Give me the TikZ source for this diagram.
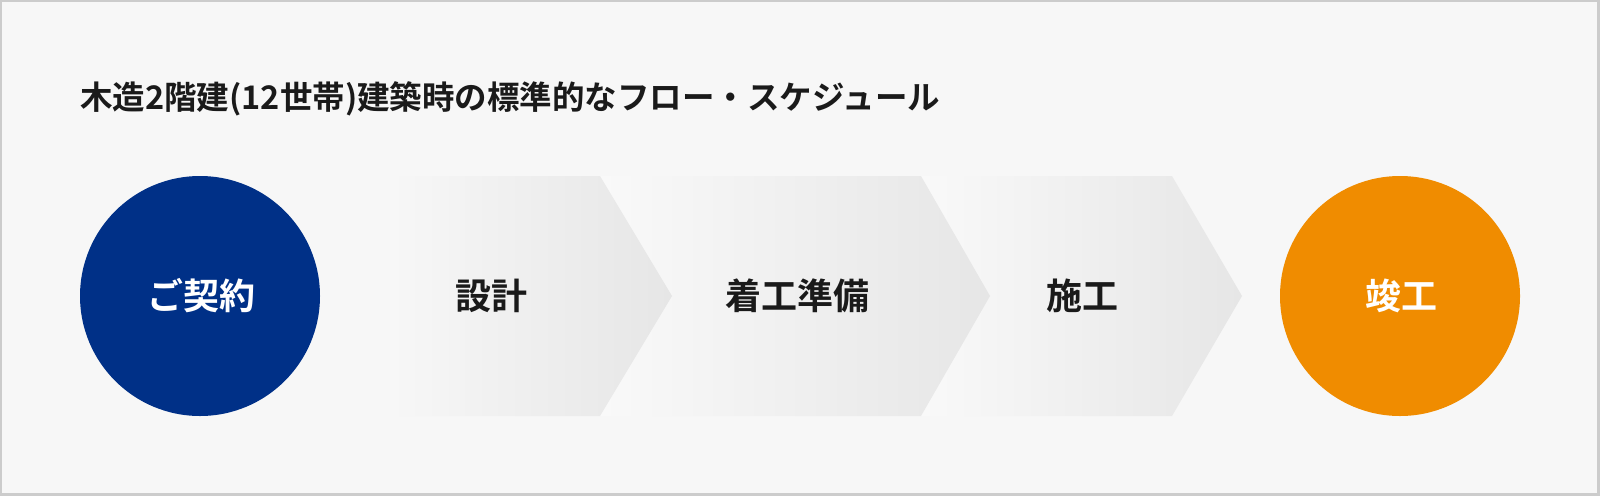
\documentclass[tikz,border=0pt]{standalone}
\usepackage{fontspec}
\setmainfont{Noto Sans CJK JP}[BoldFont={Noto Sans CJK JP Bold}]
\definecolor{bgc}{HTML}{F7F7F7}
\definecolor{framec}{HTML}{CCCCCC}
\definecolor{navy}{HTML}{003087}
\definecolor{orangec}{HTML}{F08C00}
\definecolor{txt}{HTML}{1A1A1A}
\definecolor{chevL}{HTML}{F9F9F9}
\definecolor{chevR}{HTML}{E6E6E6}
\tikzset{
  lbl/.style={font=\fontsize{36}{42}\selectfont\bfseries, inner sep=0pt, anchor=center},
  dark/.style={lbl, text=txt},
  light/.style={lbl, text=white},
  chev/.style={left color=chevL, right color=chevR, draw=none},
}
\begin{document}
\begin{tikzpicture}[x=1pt,y=-1pt]
\useasboundingbox (0,0) rectangle (1600,496);
\fill[framec] (0,0) rectangle (1600,496);
\fill[bgc] (2,2) rectangle (1597,493);
\node[font=\fontsize{32.5}{38}\selectfont\bfseries, text=txt, anchor=west, inner sep=0pt] (title) at (80,99) {木造2階建(12世帯)建築時の標準的なフロー・スケジュール};
% chevrons (drawn right to left so each tip lies on top)
\shade[chev] (921,176) -- (1172,176) -- (1242,296) -- (1172,416) -- (921,416) -- cycle;
\shade[chev] (600,176) -- (921,176) -- (990,296) -- (921,416) -- (600,416) -- cycle;
\shade[left color=bgc, right color=chevR] (390,176) -- (600,176) -- (672,296) -- (600,416) -- (390,416) -- cycle;
\fill[navy] (200,296) circle (120);
\fill[orangec] (1400,296) circle (120);
\node[light] (start) at (201,296) {ご契約};
\node[dark] (design) at (491,296) {設計};
\node[dark] (prep) at (797,296) {着工準備};
\node[dark] (build) at (1082,296) {施工};
\node[light] (done) at (1401,296) {竣工};
\end{tikzpicture}
\end{document}
